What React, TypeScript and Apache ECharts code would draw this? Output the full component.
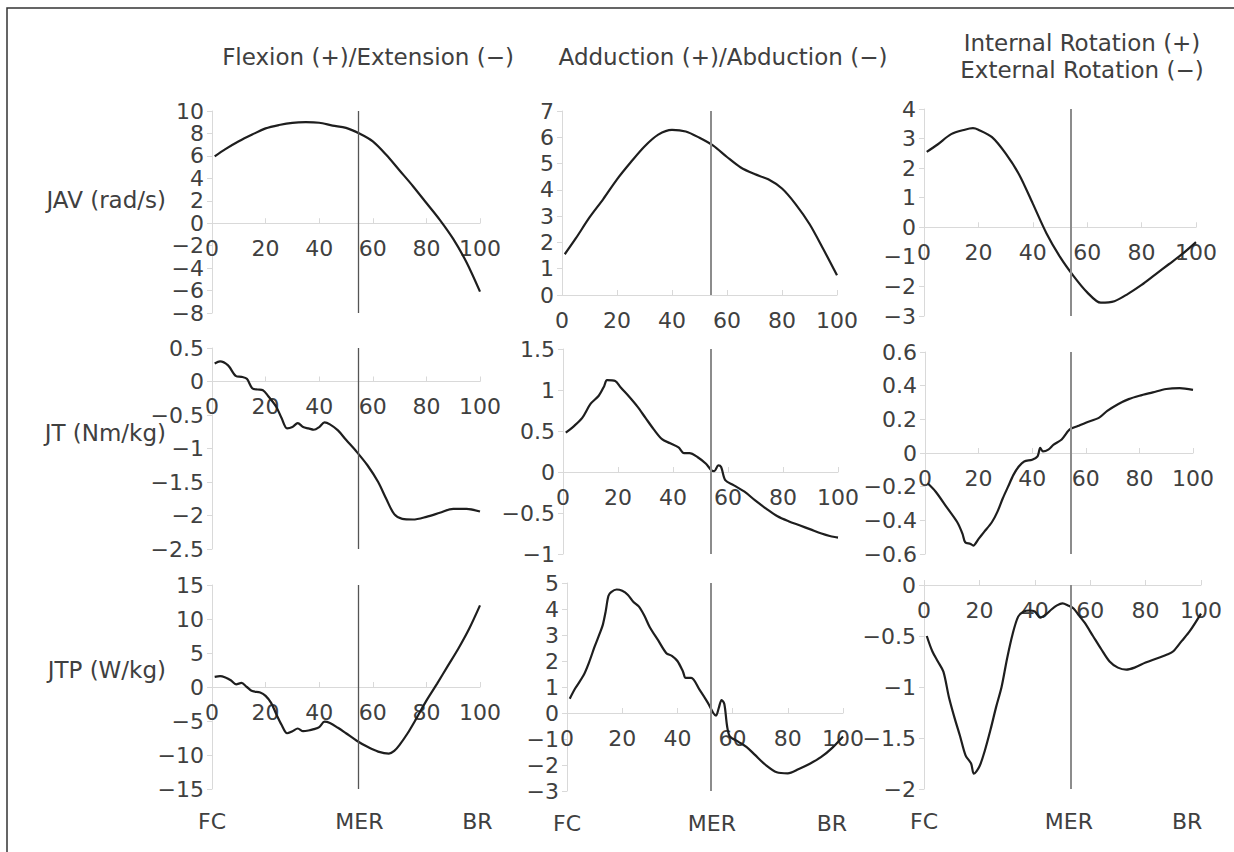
import React, { useEffect, useRef } from "react";
import * as echarts from "echarts";

// ---------- text ----------
const colTitles = ["Flexion (+)/Extension (−)", "Adduction (+)/Abduction (−)"];
const colTitle3 = ["Internal Rotation (+)", "External Rotation (−)"];
const rowNames = ["JAV (rad/s)", "JT (Nm/kg)", "JTP (W/kg)"];
const phaseNames = ["FC", "MER", "BR"];

// ---------- data: [% of phase, value] ----------
const javFlexion: number[][] = [
  [1, 5.95], [5, 6.6], [10, 7.3], [15, 7.9], [20, 8.45], [25, 8.75], [30, 8.95], [35, 9.0], [40, 8.95],
  [45, 8.7], [50, 8.5], [55, 8.0], [60, 7.3], [65, 6.1], [70, 4.7], [75, 3.3], [80, 1.8], [85, 0.3],
  [90, -1.4], [95, -3.5], [100, -6.1],
];
const javAdduction: number[][] = [
  [1, 1.55], [5, 2.15], [10, 2.95], [15, 3.65], [20, 4.4], [25, 5.05], [30, 5.65], [35, 6.1], [40, 6.28],
  [45, 6.22], [50, 5.98], [55, 5.68], [60, 5.25], [65, 4.85], [70, 4.6], [75, 4.4], [80, 4.05], [85, 3.45],
  [90, 2.7], [95, 1.75], [100, 0.75],
];
const javRotation: number[][] = [
  [1, 2.55], [5, 2.8], [10, 3.15], [15, 3.3], [18, 3.35], [20, 3.3], [25, 3.05], [30, 2.5], [35, 1.78],
  [40, 0.8], [45, -0.2], [50, -1.0], [55, -1.65], [60, -2.2], [65, -2.55], [70, -2.5], [75, -2.25],
  [80, -1.95], [85, -1.6], [90, -1.25], [95, -0.9], [100, -0.5],
];
const jtFlexion: number[][] = [
  [1, 0.27], [3, 0.3], [6, 0.24], [9, 0.08], [11, 0.07], [13, 0.04], [15, -0.1], [17, -0.12], [19, -0.13],
  [21, -0.22], [24, -0.38], [26, -0.55], [28, -0.7], [30, -0.68], [32, -0.62], [34, -0.68], [36, -0.7],
  [38, -0.72], [40, -0.68], [42, -0.61], [44, -0.64], [47, -0.73], [50, -0.87], [54, -1.05], [58, -1.25],
  [62, -1.5], [65, -1.75], [68, -1.98], [71, -2.05], [75, -2.06], [80, -2.02], [85, -1.96], [90, -1.9],
  [95, -1.9], [100, -1.94],
];
const jtAdduction: number[][] = [
  [1, 0.48], [4, 0.56], [7, 0.66], [10, 0.83], [13, 0.93], [15, 1.05], [16, 1.12], [19, 1.11], [21, 1.03],
  [24, 0.92], [27, 0.8], [30, 0.66], [33, 0.52], [36, 0.4], [39, 0.35], [42, 0.3], [44, 0.23], [46, 0.23],
  [49, 0.18], [52, 0.1], [54, 0.02], [55, 0.01], [56.5, 0.08], [57.5, 0.06], [59, -0.1], [62, -0.16],
  [66, -0.24], [70, -0.35], [74, -0.45], [78, -0.54], [82, -0.6], [86, -0.65], [90, -0.7], [94, -0.75],
  [97, -0.78], [100, -0.8],
];
const jtRotation: number[][] = [
  [1, -0.18], [4, -0.23], [8, -0.32], [12, -0.41], [14, -0.48], [15, -0.53], [17, -0.54], [18, -0.55],
  [20, -0.51], [22, -0.47], [25, -0.41], [27, -0.35], [29, -0.27], [31, -0.2], [33, -0.13], [35, -0.08],
  [37, -0.05], [40, -0.04], [42, -0.02], [43, 0.03], [44, 0.01], [46, 0.02], [48, 0.05], [51, 0.08],
  [54, 0.14], [57, 0.16], [60, 0.18], [65, 0.21], [68, 0.25], [72, 0.29], [76, 0.32], [80, 0.34],
  [85, 0.36], [90, 0.38], [95, 0.385], [100, 0.375],
];
const jtpFlexion: number[][] = [
  [1, 1.5], [3, 1.6], [5, 1.4], [7, 1.0], [9, 0.4], [11, 0.6], [13, 0.0], [15, -0.6], [18, -0.8],
  [20, -1.3], [22, -2.3], [24, -4.0], [26, -5.6], [28, -6.8], [30, -6.5], [32, -6.1], [34, -6.5],
  [36, -6.4], [38, -6.2], [40, -5.9], [42, -5.1], [44, -5.3], [47, -6.0], [50, -6.8], [54, -7.9],
  [58, -8.8], [62, -9.5], [66, -9.8], [68, -9.4], [70, -8.5], [73, -6.8], [76, -4.8], [80, -2.0],
  [84, 0.5], [88, 3.1], [92, 5.7], [96, 8.6], [100, 12.0],
];
const jtpAdduction: number[][] = [
  [1, 0.55], [3, 0.95], [6, 1.45], [8, 1.95], [10, 2.55], [12, 3.1], [13, 3.4], [14, 3.9], [15, 4.5],
  [16, 4.65], [18, 4.75], [20, 4.7], [22, 4.55], [24, 4.28], [26, 4.1], [28, 3.75], [30, 3.3], [33, 2.8],
  [36, 2.3], [38, 2.2], [40, 2.0], [42, 1.6], [43, 1.35], [45, 1.35], [48, 0.9], [51, 0.4], [53, 0.0],
  [54, -0.1], [55, 0.2], [56, 0.5], [57, 0.35], [58, -0.5], [59, -0.9], [62, -1.1], [65, -1.3],
  [68, -1.6], [72, -2.0], [76, -2.28], [80, -2.32], [84, -2.15], [88, -1.95], [92, -1.7], [96, -1.35],
  [100, -0.9],
];
const jtpRotation: number[][] = [
  [1, -0.5], [3, -0.65], [5, -0.75], [7, -0.85], [9, -1.1], [11, -1.3], [13, -1.48], [15, -1.67],
  [17, -1.75], [18, -1.85], [20, -1.78], [22, -1.62], [24, -1.42], [26, -1.2], [28, -1.0], [30, -0.72],
  [32, -0.48], [34, -0.31], [36, -0.26], [38, -0.25], [40, -0.26], [42, -0.32], [44, -0.29], [46, -0.24],
  [48, -0.2], [50, -0.18], [52, -0.2], [54, -0.23], [56, -0.3], [58, -0.37], [61, -0.5], [64, -0.63],
  [67, -0.75], [70, -0.81], [73, -0.83], [76, -0.81], [80, -0.76], [84, -0.72], [88, -0.68], [90, -0.65],
  [93, -0.55], [96, -0.45], [100, -0.28],
];

// y-axis scales per panel [min, max, step]
const yScales = [
  [-8, 10, 2], [0, 7, 1], [-3, 4, 1],
  [-2.5, 0.5, 0.5], [-1, 1.5, 0.5], [-0.6, 0.6, 0.2],
  [-15, 15, 5], [-3, 5, 1], [-2, 0, 0.5],
];
// MER position (% of phase) per panel
const merPos = [54.5, 54.2, 54, 54.6, 53.8, 54.5, 54.6, 52.2, 53];
// phase label positions for bottom row
const phasePos = [[0, 55, 99], [0, 52.5, 96], [0, 52.3, 95]];

const seriesData = [javFlexion, javAdduction, javRotation, jtFlexion, jtAdduction, jtRotation, jtpFlexion, jtpAdduction, jtpRotation];

// ---------- layout ----------
const grids = [
  { left: 212, top: 111, width: 268, height: 202 },
  { left: 562, top: 111, width: 275, height: 184 },
  { left: 924, top: 109, width: 272, height: 207 },
  { left: 212, top: 348, width: 268, height: 201 },
  { left: 563, top: 349, width: 275, height: 205 },
  { left: 925, top: 352, width: 268, height: 202 },
  { left: 212, top: 585, width: 268, height: 204 },
  { left: 567, top: 583, width: 276, height: 208 },
  { left: 924, top: 585, width: 277, height: 204 },
];

const FONT = '"DejaVu Sans", "Noto Sans", sans-serif';
const TXT = "#404040";
const AX = "#d9d9d9";
const fmt = (v: number) => String(+Number(v).toFixed(2)).replace("-", "−");

export default function App() {
  const ref = useRef<HTMLDivElement>(null);
  useEffect(() => {
    document.body.style.margin = "0";
    const chart = echarts.init(ref.current!, undefined, { renderer: "svg" });

    const xAxes: any[] = [];
    const yAxes: any[] = [];
    const series: any[] = [];

    grids.forEach((g, i) => {
      const [mn, mx, st] = yScales[i];
      // place the x axis on the y = 0 line of its panel
      const zeroOffset = -g.height * (0 - mn) / (mx - mn);
      xAxes.push({
        type: "value", gridIndex: i, min: 0, max: 100, interval: 20, position: "bottom",
        offset: zeroOffset,
        axisLine: { show: true, onZero: false, lineStyle: { color: AX, width: 1 } },
        axisTick: { show: true, inside: true, length: 5, lineStyle: { color: AX } },
        splitLine: { show: false },
        axisLabel: {
          color: TXT, fontSize: 22, fontFamily: FONT, margin: 15, lineHeight: 20,
          showMinLabel: true, showMaxLabel: true, hideOverlap: false,
          formatter: (v: number) => fmt(v),
        },
      });
      yAxes.push({
        type: "value", gridIndex: i, min: mn, max: mx, interval: st,
        axisLine: { show: true, onZero: false, lineStyle: { color: AX, width: 1 } },
        axisTick: { show: true, length: 5, lineStyle: { color: AX } },
        splitLine: { show: false },
        axisLabel: {
          color: TXT, fontSize: 22, fontFamily: FONT, margin: 8, lineHeight: 20,
          showMinLabel: true, showMaxLabel: true, hideOverlap: false,
          formatter: (v: number) => fmt(v),
        },
      });
      const col = i % 3;
      series.push({
        type: "line", xAxisIndex: i, yAxisIndex: i, data: seriesData[i],
        showSymbol: false, smooth: 0.3,
        lineStyle: { color: "#1e1e1e", width: 2.2 },
        markLine: {
          silent: true, symbol: ["none", "none"], label: { show: false },
          lineStyle: { color: col === 0 ? "#555" : "#8c8c8c", width: col === 0 ? 1.3 : 2, type: "solid" },
          data: [{ xAxis: merPos[i] }],
        },
      });
    });

    // phase labels under bottom row
    [6, 7, 8].forEach((gi, k) => {
      const pos = phasePos[k];
      xAxes.push({
        type: "value", gridIndex: gi, min: 0, max: 100, position: "bottom",
        axisLine: { show: false, onZero: false },
        axisTick: { show: false },
        splitLine: { show: false },
        axisLabel: {
          color: TXT, fontSize: 22, fontFamily: FONT, margin: 22, lineHeight: 20,
          showMinLabel: true, showMaxLabel: true,
          customValues: pos,
          formatter: (v: number) => {
            const idx = pos.findIndex((p) => Math.abs(p - v) < 0.01);
            return idx >= 0 ? phaseNames[idx] : "";
          },
        },
      });
    });

    const tstyle = (text: string, align: string) => ({
      text, fill: TXT, font: `23px ${FONT}`, textAlign: align, textVerticalAlign: "middle",
    });
    const graphics: any[] = [
      { type: "rect", shape: { x: 7, y: 8, width: 1300, height: 900 }, style: { fill: "none", stroke: "#333", lineWidth: 1.5 }, silent: true },
      { type: "text", x: 368, y: 57, style: tstyle(colTitles[0], "center") },
      { type: "text", x: 723, y: 57, style: tstyle(colTitles[1], "center") },
      { type: "text", x: 1082, y: 43, style: tstyle(colTitle3[0], "center") },
      { type: "text", x: 1082, y: 70, style: tstyle(colTitle3[1], "center") },
      { type: "text", x: 166, y: 200, style: tstyle(rowNames[0], "right") },
      { type: "text", x: 166, y: 433, style: tstyle(rowNames[1], "right") },
      { type: "text", x: 166, y: 670, style: tstyle(rowNames[2], "right") },
    ];

    chart.setOption({
      animation: false,
      backgroundColor: "#ffffff",
      grid: grids.map((g) => ({ ...g, containLabel: false })),
      xAxis: xAxes,
      yAxis: yAxes,
      series,
      graphic: graphics,
    });
    return () => chart.dispose();
  }, []);
  return <div ref={ref} style={{ width: 1234, height: 852 }} />;
}
